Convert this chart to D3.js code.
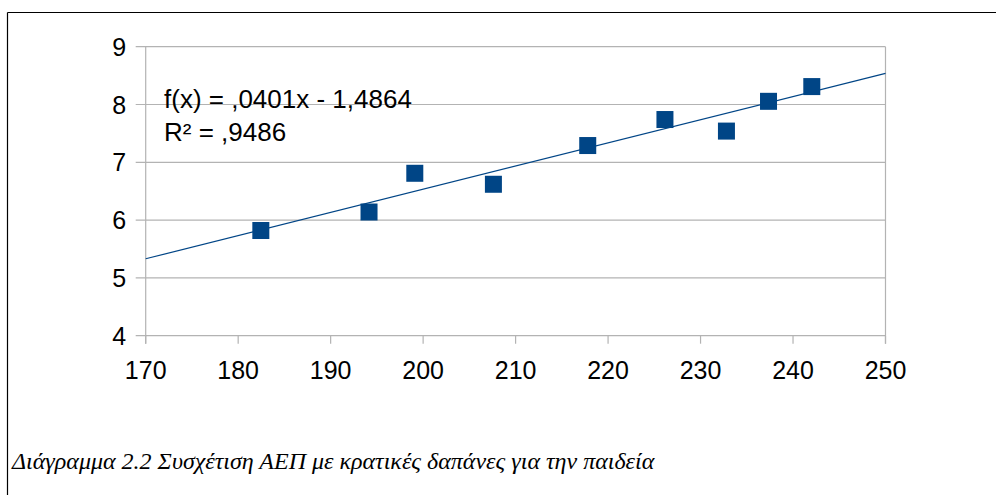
<!DOCTYPE html>
<html><head><meta charset="utf-8">
<script src="https://cdn.jsdelivr.net/npm/d3@7"></script>
<style>html,body{margin:0;padding:0;background:#fff;}svg{display:block;}</style>
</head><body>
<svg id="chart" width="996" height="495"></svg>
<script>
const xValues = [182.45, 194.15, 199.1, 207.6, 217.8, 226.15, 232.8, 237.35, 242.03];
const yValues = [5.82, 6.14, 6.81, 6.62, 7.29, 7.74, 7.54, 8.055, 8.31];
const xTicks = [170, 180, 190, 200, 210, 220, 230, 240, 250];
const yTicks = [4, 5, 6, 7, 8, 9];
const slope = 0.0401, intercept = -1.4864;
const equationLines = ["f(x) = ,0401x - 1,4864", "R² = ,9486"];
const caption = "Διάγραμμα 2.2 Συσχέτιση ΑΕΠ με κρατικές δαπάνες για την παιδεία";

const svg = d3.select("#chart");
const x = d3.scaleLinear().domain([170, 250]).range([145.7, 885.5]);
const y = d3.scaleLinear().domain([4, 9]).range([335.7, 46.7]);

// frame
svg.append("line").attr("x1", 7.5).attr("x2", 996).attr("y1", 12.5).attr("y2", 12.5).attr("stroke", "#000").attr("stroke-width", 1.2);
svg.append("line").attr("x1", 7.5).attr("x2", 7.5).attr("y1", 12.5).attr("y2", 495).attr("stroke", "#000").attr("stroke-width", 1.2);

const grid = "#b3b3b3";
svg.append("g").selectAll("line").data(yTicks).join("line")
  .attr("x1", x(170) - 10).attr("x2", x(250))
  .attr("y1", d => y(d)).attr("y2", d => y(d))
  .attr("stroke", grid).attr("stroke-width", 1.2);
svg.append("line").attr("x1", x(170)).attr("x2", x(170)).attr("y1", y(9)).attr("y2", y(4) + 8).attr("stroke", grid).attr("stroke-width", 1.2);
svg.append("line").attr("x1", x(250)).attr("x2", x(250)).attr("y1", y(9)).attr("y2", y(4) + 8).attr("stroke", grid).attr("stroke-width", 1.2);
svg.append("g").selectAll("line").data(xTicks).join("line")
  .attr("x1", d => x(d)).attr("x2", d => x(d))
  .attr("y1", y(4)).attr("y2", y(4) + 8)
  .attr("stroke", grid).attr("stroke-width", 1.2);

const font = "'Liberation Sans', Arial, sans-serif";
svg.append("g").selectAll("text").data(yTicks).join("text")
  .attr("x", x(170) - 19.5).attr("y", d => y(d) + 9)
  .attr("text-anchor", "end").attr("font-family", font).attr("font-size", 25).attr("fill", "#000")
  .text(d => d);
svg.append("g").selectAll("text").data(xTicks).join("text")
  .attr("x", d => x(d)).attr("y", y(4) + 43)
  .attr("text-anchor", "middle").attr("font-family", font).attr("font-size", 25).attr("fill", "#000")
  .text(d => d);

svg.append("line")
  .attr("x1", x(170)).attr("y1", y(slope * 170 + intercept))
  .attr("x2", x(250)).attr("y2", y(slope * 250 + intercept))
  .attr("stroke", "#004586").attr("stroke-width", 1.2);

const s = 17;
svg.append("g").selectAll("rect").data(xValues).join("rect")
  .attr("x", (d, i) => x(d) - s / 2).attr("y", (d, i) => y(yValues[i]) - s / 2)
  .attr("width", s).attr("height", s).attr("fill", "#004586");

svg.append("g").selectAll("text").data(equationLines).join("text")
  .attr("x", 164).attr("y", (d, i) => 108 + i * 32.7)
  .attr("font-family", font).attr("font-size", 26).attr("fill", "#000")
  .text(d => d);

svg.append("text").attr("x", 12).attr("y", 469)
  .attr("font-family", "'Liberation Serif', 'Times New Roman', serif").attr("font-style", "italic")
  .attr("font-size", 24).attr("fill", "#000").text(caption);
</script>
</body></html>
